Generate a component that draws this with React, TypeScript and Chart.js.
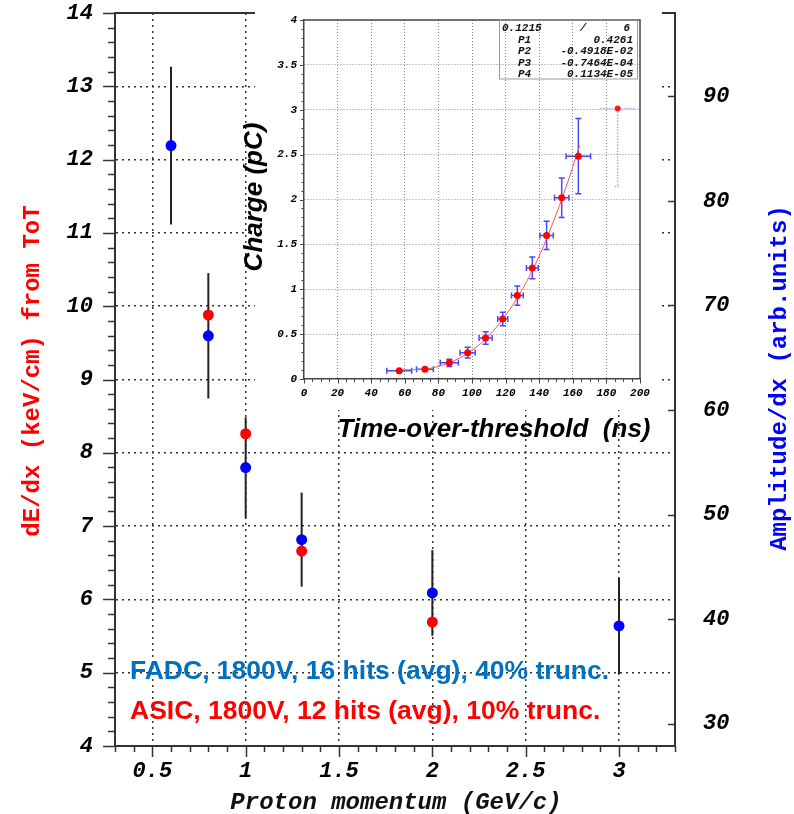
import React, { useEffect, useRef } from "react";
import { Chart, registerables } from "chart.js";

Chart.register(...registerables);

// ---------------- main plot data ----------------
const momentumFADC = [0.6, 0.8, 1.0, 1.3, 2.0, 3.0];
const amplitudeFADC = [85.3, 67.1, 54.5, 47.6, 42.5, 39.35];
const amplitudeErrFADC = [7.55, 6.0, 4.8, 4.5, 4.1, 4.6];
const momentumASIC = [0.8, 1.0, 1.3, 2.0];
const dedxASIC = [9.88, 8.26, 6.66, 5.69];

const momentumTicks = [0.5, 1, 1.5, 2, 2.5, 3];
const dedxTicks = [4, 5, 6, 7, 8, 9, 10, 11, 12, 13, 14];
const amplitudeTicks = [30, 40, 50, 60, 70, 80, 90];

// ---------------- inset data ----------------
const totValues = [56.7, 72, 86.5, 97.4, 108.1, 118.3, 127, 135.9, 144.4, 153.4, 163.3];
const chargeValues = [0.093, 0.11, 0.18, 0.293, 0.457, 0.669, 0.929, 1.238, 1.6, 2.02, 2.483];
const totErr = [7.4, 5, 5.4, 4.5, 3.9, 3, 3.5, 3.5, 4, 4.3, 7.3];
const chargeErr = [0.01, 0.01, 0.04, 0.06, 0.07, 0.075, 0.108, 0.12, 0.158, 0.22, 0.42];
const outlierTot = [186.7];
const outlierCharge = [3.015];
const outlierTotErr = [10.6];
const outlierChargeErrLow = [0.87];

const fitTot = [56, 65, 72, 80, 90, 100, 110, 120, 130, 140, 150, 158, 164];
const fitCharge = [0.1, 0.105, 0.11, 0.14, 0.21, 0.32, 0.48, 0.71, 1.0, 1.37, 1.83, 2.25, 2.6];

const totTicks = [0, 20, 40, 60, 80, 100, 120, 140, 160, 180, 200];
const chargeTicks = [0, 0.5, 1, 1.5, 2, 2.5, 3, 3.5, 4];

const statsHead = ["0.1215", "/", "6"];
const statsNames = ["P1", "P2", "P3", "P4"];
const statsValues = ["0.4261", "-0.4918E-02", "-0.7464E-04", "0.1134E-05"];

const MONO = "'Liberation Mono', 'DejaVu Sans Mono', monospace";
const SANS = "'Liberation Sans', Arial, sans-serif";

const noPad = (s: any) => {
  s.paddingTop = 0;
  s.paddingBottom = 0;
  s.paddingLeft = 0;
  s.paddingRight = 0;
};

const mainPlugin = {
  id: "mainDecor",
  beforeDatasetsDraw(chart: any) {
    const { ctx, scales } = chart;
    const x = scales.x;
    const yR = scales.yR;
    ctx.save();
    ctx.strokeStyle = "#222";
    ctx.lineWidth = 2;
    momentumFADC.forEach((m, i) => {
      const px = x.getPixelForValue(m);
      ctx.beginPath();
      ctx.moveTo(px, yR.getPixelForValue(amplitudeFADC[i] + amplitudeErrFADC[i]));
      ctx.lineTo(px, yR.getPixelForValue(amplitudeFADC[i] - amplitudeErrFADC[i]));
      ctx.stroke();
    });
    ctx.restore();
  },
  afterDraw(chart: any) {
    const { ctx, chartArea, scales } = chart;
    const { left, right, top, bottom } = chartArea;
    ctx.save();
    ctx.strokeStyle = "#333";
    ctx.lineWidth = 2;
    ctx.beginPath();
    ctx.moveTo(left - 1, top);
    ctx.lineTo(right + 1, top);
    ctx.stroke();
    ctx.lineWidth = 1.5;
    const yL = scales.yL;
    for (let k = 0; k <= 50; k++) {
      const v = 4 + k * 0.2;
      const py = Math.round(yL.getPixelForValue(v)) + 0.5;
      const len = k % 5 === 0 ? 12 : 7;
      ctx.beginPath();
      ctx.moveTo(left - len, py);
      ctx.lineTo(left, py);
      ctx.stroke();
    }
    const x = scales.x;
    for (let k = 3; k <= 33; k++) {
      const v = k / 10;
      const px = Math.round(x.getPixelForValue(v)) + 0.5;
      const len = k % 5 === 0 ? 11 : 6;
      ctx.beginPath();
      ctx.moveTo(px, bottom);
      ctx.lineTo(px, bottom + len);
      ctx.stroke();
    }
    const yR = scales.yR;
    amplitudeTicks.forEach((v) => {
      const py = Math.round(yR.getPixelForValue(v)) + 0.5;
      ctx.beginPath();
      ctx.moveTo(right - 7, py);
      ctx.lineTo(right, py);
      ctx.stroke();
    });

    ctx.textAlign = "center";
    ctx.textBaseline = "middle";
    ctx.fillStyle = "#ff0000";
    ctx.font = `bold 24px ${MONO}`;
    ctx.save();
    ctx.translate(33, 371);
    ctx.rotate(-Math.PI / 2);
    ctx.fillText("dE/dx (keV/cm) from ToT", 0, 0);
    ctx.restore();

    ctx.fillStyle = "#0000ff";
    ctx.save();
    ctx.translate(780, 378);
    ctx.rotate(-Math.PI / 2);
    ctx.fillText("Amplitude/dx (arb.units)", 0, 0);
    ctx.restore();

    ctx.fillStyle = "#111";
    ctx.font = `italic bold 24px ${MONO}`;
    ctx.fillText("Proton momentum (GeV/c)", 396, 803);

    ctx.textAlign = "left";
    ctx.font = `bold 26.5px ${SANS}`;
    ctx.fillStyle = "#0070c0";
    ctx.fillText("FADC, 1800V, 16 hits (avg), 40% trunc.", 130, 672);
    ctx.fillStyle = "#ff0000";
    ctx.fillText("ASIC, 1800V, 12 hits (avg), 10% trunc.", 130, 712);
    ctx.restore();
  },
};

const insetPlugin = {
  id: "insetDecor",
  beforeDraw(chart: any) {
    const { ctx } = chart;
    ctx.save();
    ctx.fillStyle = "#ffffff";
    ctx.fillRect(15, 0, 422 - 15, 410);
    ctx.restore();
  },
  beforeDatasetsDraw(chart: any) {
    const { ctx, scales } = chart;
    const x = scales.x;
    const y = scales.y;
    const cap = 3;
    ctx.save();
    ctx.strokeStyle = "rgba(40,40,255,0.85)";
    ctx.lineWidth = 1.5;
    totValues.forEach((t, i) => {
      const px = x.getPixelForValue(t);
      const py = y.getPixelForValue(chargeValues[i]);
      const x1 = x.getPixelForValue(t - totErr[i]);
      const x2 = x.getPixelForValue(t + totErr[i]);
      const y1 = y.getPixelForValue(chargeValues[i] + chargeErr[i]);
      const y2 = y.getPixelForValue(chargeValues[i] - chargeErr[i]);
      ctx.beginPath();
      ctx.moveTo(x1, py);
      ctx.lineTo(x2, py);
      ctx.moveTo(x1, py - cap);
      ctx.lineTo(x1, py + cap);
      ctx.moveTo(x2, py - cap);
      ctx.lineTo(x2, py + cap);
      ctx.moveTo(px, y1);
      ctx.lineTo(px, y2);
      ctx.moveTo(px - cap, y1);
      ctx.lineTo(px + cap, y1);
      ctx.moveTo(px - cap, y2);
      ctx.lineTo(px + cap, y2);
      ctx.stroke();
    });
    ctx.strokeStyle = "rgba(120,140,255,0.7)";
    ctx.setLineDash([1.5, 1.5]);
    ctx.lineWidth = 1.5;
    outlierTot.forEach((t, i) => {
      const px = x.getPixelForValue(t);
      const py = y.getPixelForValue(outlierCharge[i]);
      const x1 = x.getPixelForValue(t - outlierTotErr[i]);
      const x2 = x.getPixelForValue(t + outlierTotErr[i]);
      const y2 = y.getPixelForValue(outlierCharge[i] - outlierChargeErrLow[i]);
      ctx.beginPath();
      ctx.moveTo(x1, py);
      ctx.lineTo(x2, py);
      ctx.moveTo(px, py);
      ctx.lineTo(px, y2);
      ctx.moveTo(px - cap, y2);
      ctx.lineTo(px + cap, y2);
      ctx.stroke();
    });
    ctx.restore();
  },
  afterDraw(chart: any) {
    const { ctx, chartArea, scales } = chart;
    const { left, right, top, bottom } = chartArea;
    const ox = 240;
    ctx.save();
    ctx.strokeStyle = "#444";
    ctx.lineWidth = 1.5;
    ctx.beginPath();
    ctx.moveTo(left, top);
    ctx.lineTo(right, top);
    ctx.lineTo(right, bottom);
    ctx.stroke();
    ctx.lineWidth = 1;
    const y = scales.y;
    for (let k = 0; k <= 40; k++) {
      const py = Math.round(y.getPixelForValue(k / 10)) + 0.5;
      const len = k % 5 === 0 ? 4 : 2.5;
      ctx.beginPath();
      ctx.moveTo(left - len, py);
      ctx.lineTo(left, py);
      ctx.stroke();
    }
    const x = scales.x;
    for (let k = 0; k <= 40; k++) {
      const px = Math.round(x.getPixelForValue(k * 5)) + 0.5;
      const len = k % 4 === 0 ? 4.5 : 3;
      ctx.beginPath();
      ctx.moveTo(px, bottom);
      ctx.lineTo(px, bottom + len);
      ctx.stroke();
    }
    ctx.strokeStyle = "#999";
    ctx.lineWidth = 1;
    ctx.strokeRect(499.5 - ox, top, 138, 79 - top);
    ctx.fillStyle = "#111";
    ctx.font = `italic bold 11px ${MONO}`;
    ctx.textBaseline = "middle";
    ctx.textAlign = "left";
    ctx.fillText(statsHead[0], 502 - ox, 28);
    ctx.textAlign = "center";
    ctx.fillText(statsHead[1], 583 - ox, 28);
    ctx.textAlign = "right";
    ctx.fillText(statsHead[2], 630 - ox, 28);
    const rowsY = [40, 51.5, 63, 74];
    statsNames.forEach((n, i) => {
      ctx.textAlign = "left";
      ctx.fillText(n, 518 - ox, rowsY[i]);
      ctx.textAlign = "right";
      ctx.fillText(statsValues[i], 633 - ox, rowsY[i]);
    });
    ctx.fillStyle = "#000";
    ctx.font = `italic bold 26px ${SANS}`;
    ctx.textAlign = "center";
    ctx.save();
    ctx.translate(255 - ox, 197);
    ctx.rotate(-Math.PI / 2);
    ctx.fillText("Charge (pC)", 0, 0);
    ctx.restore();
    ctx.fillText("Time-over-threshold  (ns)", 494 - ox, 430);
    ctx.restore();
  },
};

function makeMain(canvas: HTMLCanvasElement) {
  const tickFont = { family: MONO, size: 22, weight: "bold" as const, style: "italic" as const };
  return new Chart(canvas, {
    type: "scatter",
    data: {
      datasets: [
        {
          label: "ASIC",
          data: momentumASIC.map((m, i) => ({ x: m, y: dedxASIC[i] })),
          yAxisID: "yL",
          backgroundColor: "#ff0000",
          borderWidth: 0,
          pointRadius: 5.5,
        },
        {
          label: "FADC",
          data: momentumFADC.map((m, i) => ({ x: m, y: amplitudeFADC[i] })),
          yAxisID: "yR",
          backgroundColor: "#0000ff",
          borderWidth: 0,
          pointRadius: 5.5,
        },
      ],
    },
    options: {
      animation: false,
      responsive: false,
      maintainAspectRatio: false,
      layout: { padding: { top: 13, left: 0, right: 0, bottom: 0 } },
      plugins: { legend: { display: false }, tooltip: { enabled: false } },
      scales: {
        x: {
          type: "linear",
          position: "bottom",
          min: 0.3,
          max: 3.3,
          afterBuildTicks: (s: any) => {
            s.ticks = momentumTicks.map((v) => ({ value: v }));
          },
          afterFit: (s: any) => {
            s.height = 68;
            noPad(s);
          },
          ticks: {
            font: tickFont,
            color: "#000",
            padding: 12,
            maxRotation: 0,
            autoSkip: false,
            callback: (v: any) => String(v),
          },
          grid: { drawTicks: false, color: "#333", lineWidth: 1.5 },
          border: { display: true, color: "#333", width: 2, dash: [2, 4] },
        },
        yL: {
          type: "linear",
          position: "left",
          min: 4,
          max: 14,
          afterBuildTicks: (s: any) => {
            s.ticks = dedxTicks.map((v) => ({ value: v }));
          },
          afterFit: (s: any) => {
            s.width = 115;
            noPad(s);
          },
          ticks: {
            font: tickFont,
            color: "#000",
            padding: 22,
            autoSkip: false,
            callback: (v: any) => String(v),
          },
          grid: {
            drawTicks: false,
            lineWidth: 1.5,
            color: (c: any) =>
              c.tick && (c.tick.value === 4 || c.tick.value === 14) ? "rgba(0,0,0,0)" : "#333",
          },
          border: { display: true, color: "#333", width: 2, dash: [2, 4] },
        },
        yR: {
          type: "linear",
          position: "right",
          min: 27.86,
          max: 97.98,
          afterBuildTicks: (s: any) => {
            s.ticks = amplitudeTicks.map((v) => ({ value: v }));
          },
          afterFit: (s: any) => {
            s.width = 119;
            noPad(s);
          },
          ticks: {
            font: tickFont,
            color: "#000",
            padding: 28,
            autoSkip: false,
            callback: (v: any) => String(v),
          },
          grid: { display: false, drawTicks: false },
          border: { display: true, color: "#333", width: 2 },
        },
      },
    },
    plugins: [mainPlugin],
  } as any);
}

function makeInset(canvas: HTMLCanvasElement) {
  const tickFont = { family: MONO, size: 11, weight: "bold" as const, style: "italic" as const };
  return new Chart(canvas, {
    type: "scatter",
    data: {
      datasets: [
        {
          label: "points",
          data: totValues.map((t, i) => ({ x: t, y: chargeValues[i] })),
          backgroundColor: "#ff0000",
          borderWidth: 0,
          pointRadius: 3.5,
        },
        {
          label: "outlier",
          data: outlierTot.map((t, i) => ({ x: t, y: outlierCharge[i] })),
          backgroundColor: "#ff1a1a",
          borderWidth: 0,
          pointRadius: 3,
        },
        {
          label: "fit",
          type: "line",
          data: fitTot.map((t, i) => ({ x: t, y: fitCharge[i] })),
          borderColor: "#ff5555",
          borderWidth: 1,
          pointRadius: 0,
          showLine: true,
          fill: false,
          cubicInterpolationMode: "monotone",
        },
      ],
    },
    options: {
      animation: false,
      responsive: false,
      maintainAspectRatio: false,
      layout: { padding: { top: 20, left: 0, right: 22, bottom: 0 } },
      plugins: { legend: { display: false }, tooltip: { enabled: false } },
      scales: {
        x: {
          type: "linear",
          min: 0,
          max: 200,
          afterBuildTicks: (s: any) => {
            s.ticks = totTicks.map((v) => ({ value: v }));
          },
          afterFit: (s: any) => {
            s.height = 71;
            noPad(s);
          },
          ticks: {
            font: tickFont,
            color: "#000",
            padding: 8,
            maxRotation: 0,
            autoSkip: false,
            callback: (v: any) => String(v),
          },
          grid: {
            drawTicks: false,
            lineWidth: 1,
            color: (c: any) =>
              c.tick && (c.tick.value === 0 || c.tick.value === 200) ? "rgba(0,0,0,0)" : "#888",
          },
          border: { display: true, color: "#444", width: 1.5, dash: [1, 2] },
        },
        y: {
          type: "linear",
          min: 0,
          max: 4,
          afterBuildTicks: (s: any) => {
            s.ticks = chargeTicks.map((v) => ({ value: v }));
          },
          afterFit: (s: any) => {
            s.width = 64;
            noPad(s);
          },
          ticks: {
            font: tickFont,
            color: "#000",
            padding: 7,
            autoSkip: false,
            callback: (v: any) => String(v),
          },
          grid: {
            drawTicks: false,
            lineWidth: 1,
            color: (c: any) =>
              c.tick && (c.tick.value === 0 || c.tick.value === 4) ? "rgba(0,0,0,0)" : "#888",
          },
          border: { display: true, color: "#444", width: 1.5, dash: [1, 2] },
        },
      },
    },
    plugins: [insetPlugin],
  } as any);
}

export default function App() {
  const mainRef = useRef<HTMLCanvasElement>(null);
  const insetRef = useRef<HTMLCanvasElement>(null);
  useEffect(() => {
    document.body.style.margin = "0";
    const main = makeMain(mainRef.current!);
    const inset = makeInset(insetRef.current!);
    return () => {
      main.destroy();
      inset.destroy();
    };
  }, []);
  return (
    <div style={{ position: "relative", width: 794, height: 814, background: "#fff" }}>
      <canvas
        ref={mainRef}
        width={794}
        height={814}
        style={{ position: "absolute", left: 0, top: 0, width: 794, height: 814 }}
      />
      <canvas
        ref={insetRef}
        width={422}
        height={450}
        style={{ position: "absolute", left: 240, top: 0, width: 422, height: 450 }}
      />
    </div>
  );
}
